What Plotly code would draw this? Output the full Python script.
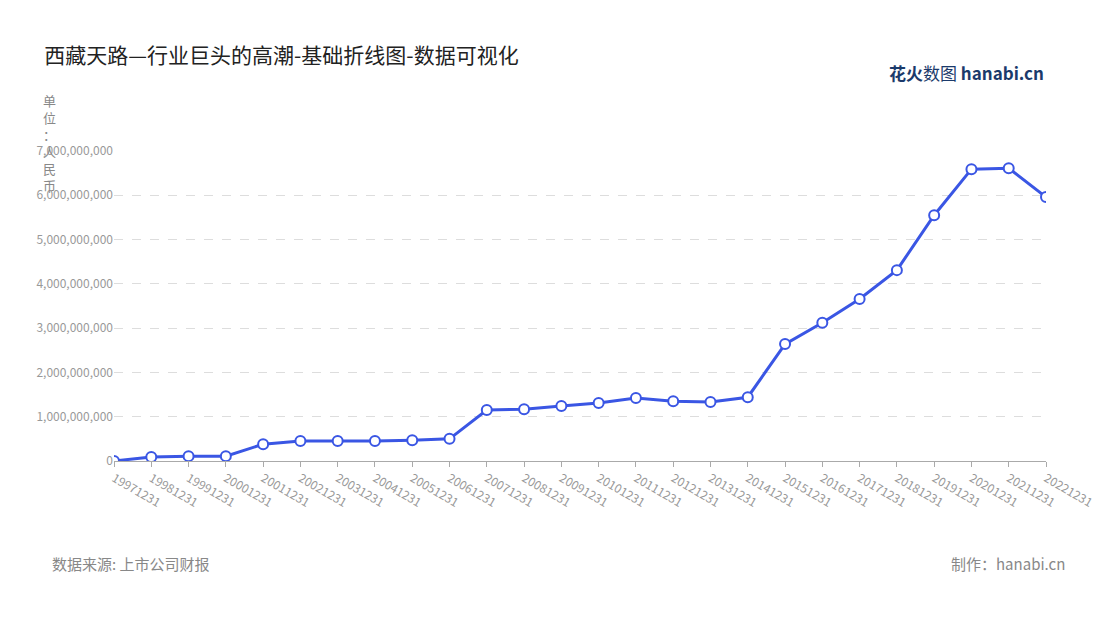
import plotly.graph_objects as go

dates = ["19971231", "19981231", "19991231", "20001231", "20011231", "20021231", "20031231",
         "20041231", "20051231", "20061231", "20071231", "20081231", "20091231", "20101231",
         "20111231", "20121231", "20131231", "20141231", "20151231", "20161231", "20171231",
         "20181231", "20191231", "20201231", "20211231", "20221231"]
revenue = [0.0, 0.09e9, 0.11e9, 0.11e9, 0.38e9, 0.45e9, 0.45e9, 0.45e9, 0.47e9, 0.50e9,
           1.15e9, 1.17e9, 1.24e9, 1.31e9, 1.42e9, 1.35e9, 1.33e9, 1.44e9, 2.64e9, 3.12e9,
           3.66e9, 4.31e9, 5.55e9, 6.59e9, 6.61e9, 5.96e9]

font = "Noto Sans CJK SC"
fig = go.Figure(go.Scatter(
    x=dates, y=revenue, mode="lines+markers",
    line=dict(color="#3a56e4", width=3),
    marker=dict(size=10, color="white", line=dict(color="#3a56e4", width=2)),
))

fig.update_layout(
    width=1100, height=620, plot_bgcolor="white", paper_bgcolor="white",
    margin=dict(l=106, r=58, t=143, b=167),
    font=dict(family=font, color="#999"),
    showlegend=False,
    title=dict(text="西藏天路—行业巨头的高潮-基础折线图-数据可视化", x=0.033, y=0.935,
               font=dict(size=21, color="#222", family=font)),
    xaxis=dict(type="category", showgrid=False, showline=True, linecolor="#aaa",
               ticks="outside", ticklen=5, tickcolor="#aaa", tickangle=30,
               tickfont=dict(size=12, color="#999"), range=[0, 25]),
    yaxis=dict(range=[0, 7e9], dtick=1e9, tickformat=",d", gridcolor="#ddd", griddash="dash",
               zeroline=False, tickfont=dict(size=12, color="#999")),
    annotations=[
        dict(text="单<br>位<br>：<br>人<br>民<br>币", xref="paper", yref="paper", x=-0.078, y=1.2,
             xanchor="left", yanchor="top", showarrow=False, align="center",
             font=dict(size=13, color="#888")),
        dict(text="数据来源: 上市公司财报", xref="paper", yref="paper", x=-0.069, y=-0.37,
             xanchor="left", showarrow=False, font=dict(size=15, color="#888")),
        dict(text="制作：hanabi.cn", xref="paper", yref="paper", x=1.022, y=-0.37,
             xanchor="right", showarrow=False, font=dict(size=15, color="#888")),
        dict(text="<b>花火</b>数图 <b>hanabi.cn</b>", xref="paper", yref="paper", x=1.0, y=1.3,
             xanchor="right", showarrow=False, font=dict(size=17, color="#1b3a6b")),
    ],
)

fig.write_html("out.html")
